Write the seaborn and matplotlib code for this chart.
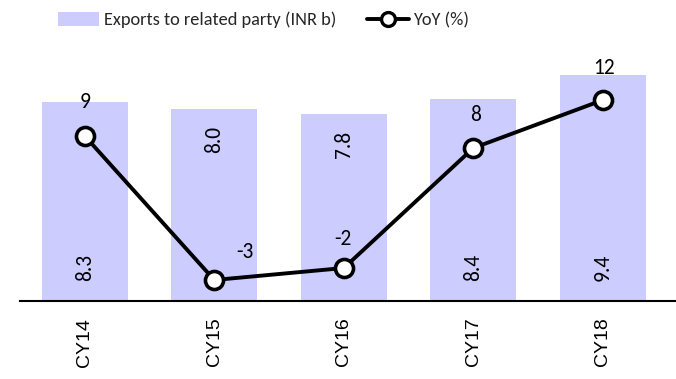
import numpy as np
import matplotlib
matplotlib.use("Agg")
import matplotlib.pyplot as plt
from matplotlib.patches import Patch
from matplotlib.lines import Line2D
import seaborn as sns

years = ["CY14", "CY15", "CY16", "CY17", "CY18"]
exports = [8.3, 8.0, 7.8, 8.4, 9.4]
yoy = [9, -3, -2, 8, 12]

# where each bar value sits inside its bar, and how each YoY label is nudged (px)
bar_label_pos = ["base", "end", "end", "base", "base"]
yoy_label_offset = [(0, 34), (31, 28), (-1, 29), (2, 33), (1, 32)]

sns.set_theme(style="white")
label_font = ["Carlito", "Lato", "DejaVu Sans"]
tick_font = ["Liberation Sans", "DejaVu Sans"]

bar_color = "#CCCCFF"

fig = plt.figure(figsize=(6.76, 3.79), dpi=100)
W, H = 676, 379
ax = fig.add_axes([20 / W, 78 / H, 656 / W, 240 / H])

sns.barplot(x=years, y=exports, color=bar_color, saturation=1, width=0.664,
            edgecolor="none", ax=ax)
ax.set_ylim(0, 10)

for i, (v, pos) in enumerate(zip(exports, bar_label_pos)):
    if pos == "base":
        ax.text(i, 0.85, f"{v:.1f}", rotation=90, ha="center", va="bottom",
                fontsize=15.5, family=label_font, color="black")
    else:
        ax.text(i, v - 0.7, f"{v:.1f}", rotation=90, ha="center", va="top",
                fontsize=15.5, family=label_font, color="black")

ax2 = ax.twinx()
sns.lineplot(x=np.arange(len(years)), y=yoy, ax=ax2, color="black",
             linewidth=2.8, marker="o", markersize=13,
             markerfacecolor="white", markeredgecolor="black",
             markeredgewidth=2.6)
ax2.set_ylim(-4.75, 15.25)

px = 72 / fig.dpi
for i, (v, (dx, dy)) in enumerate(zip(yoy, yoy_label_offset)):
    ax2.annotate(f"{v}", (i, v), xytext=(dx * px, dy * px),
                 textcoords="offset points", ha="center", va="center",
                 fontsize=15.5, family=label_font, color="black")

for a in (ax, ax2):
    a.set_xlim(-0.5, 4.564)
    for s in ("top", "left", "right"):
        a.spines[s].set_visible(False)
    a.set_yticks([])
    a.set_ylabel("")
ax2.spines["bottom"].set_visible(False)
ax.spines["bottom"].set_color("black")
ax.spines["bottom"].set_linewidth(1.5)

ax.set_xticks(range(len(years)))
ax.set_xticklabels(years, rotation=90, fontsize=14, family=tick_font)
ax.tick_params(axis="x", length=0, pad=12, colors="black")
ax.set_xlabel("")

handles = [
    Patch(facecolor=bar_color, edgecolor="none"),
    Line2D([0], [0], color="black", linewidth=2.8, marker="o", markersize=10,
           markerfacecolor="white", markeredgecolor="black", markeredgewidth=2.4),
]
fig.legend(handles, ["Exports to related party (INR b)", "YoY (%)"],
           loc="center left", bbox_to_anchor=(58 / W, 1 - 20 / H), ncol=2,
           frameon=False, borderpad=0, borderaxespad=0, handlelength=2.25,
           handletextpad=0.25, columnspacing=1.7, handleheight=0.75,
           prop={"family": label_font, "size": 13.2})

fig.savefig("out.png", dpi=100)
